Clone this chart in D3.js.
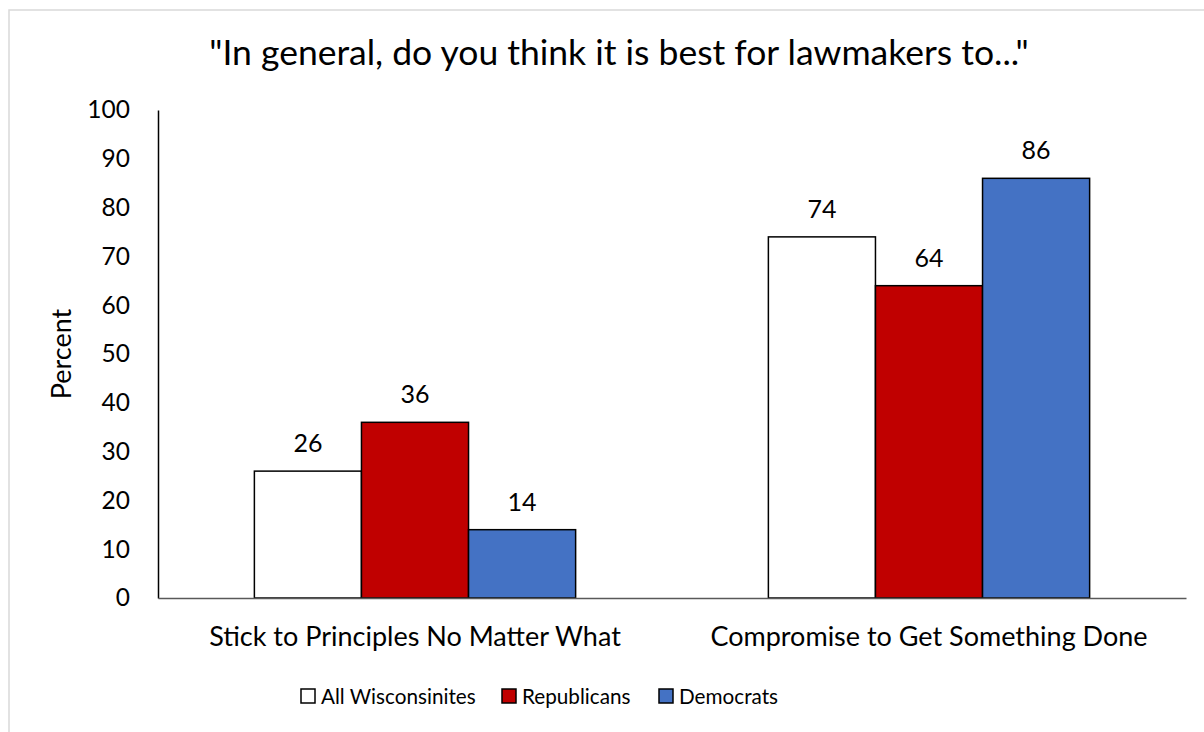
<!DOCTYPE html>
<html>
<head>
<meta charset="utf-8">
<script src="https://cdn.jsdelivr.net/npm/d3@7"></script>
<style>
  html, body { margin: 0; padding: 0; background: #fff; }
  svg { display: block; font-family: Lato, "Open Sans", sans-serif; }
</style>
</head>
<body>
<svg id="chart" width="1204" height="732"></svg>
<script>
const title = '"In general, do you think it is best for lawmakers to..."';
const categories = ["Stick to Principles No Matter What", "Compromise to Get Something Done"];
const seriesNames = ["All Wisconsinites", "Republicans", "Democrats"];
const seriesColors = ["#FFFFFF", "#C00000", "#4472C4"];
const allWisconsinites = [26, 74];
const republicans = [36, 64];
const democrats = [14, 86];
const yTicks = [0, 10, 20, 30, 40, 50, 60, 70, 80, 90, 100];
const yLabel = "Percent";

const seriesValues = [allWisconsinites, republicans, democrats];
const rows = categories.map((c, i) => ({
  category: c,
  values: seriesNames.map((s, j) => ({ series: s, value: seriesValues[j][i], color: seriesColors[j] }))
}));

const svg = d3.select("#chart");
const plot = { left: 158, right: 1186, top: 110, bottom: 598 };

// outer border
svg.append("rect")
  .attr("x", 9).attr("y", 10).attr("width", 1260).attr("height", 760)
  .attr("fill", "#fff").attr("stroke", "#d9d9d9").attr("stroke-width", 1.5);

const x0 = d3.scaleBand().domain(categories).range([plot.left, plot.right]).padding(0);
const bw = x0.bandwidth();
const x1 = d3.scaleBand().domain(seriesNames).range([bw * 0.1875, bw * 0.8125]).padding(0);
const y = d3.scaleLinear().domain([0, 100]).range([plot.bottom, plot.top]);

// title
svg.append("text")
  .attr("x", 619).attr("y", 65)
  .attr("text-anchor", "middle")
  .attr("font-size", 35.5).attr("fill", "#000")
  .text(title);

// y axis
const yAxis = svg.append("g")
  .attr("transform", `translate(${plot.left},0)`)
  .call(d3.axisLeft(y).tickValues(yTicks).tickSize(0).tickPadding(28));
yAxis.select(".domain").attr("stroke", "#000").attr("stroke-width", 1.5);
yAxis.selectAll("text").attr("font-size", 24.5).attr("fill", "#000").attr("font-family", "Lato, sans-serif");

// y label
svg.append("text")
  .attr("transform", `translate(71,354) rotate(-90)`)
  .attr("text-anchor", "middle")
  .attr("font-size", 27).attr("fill", "#000")
  .text(yLabel);

// bars
const groups = svg.selectAll("g.grp").data(rows).enter().append("g")
  .attr("class", "grp")
  .attr("transform", d => `translate(${x0(d.category)},0)`);

groups.selectAll("rect").data(d => d.values).enter().append("rect")
  .attr("x", d => x1(d.series))
  .attr("y", d => y(d.value))
  .attr("width", x1.bandwidth())
  .attr("height", d => y(0) - y(d.value))
  .attr("fill", d => d.color)
  .attr("stroke", "#000").attr("stroke-width", 1.5);

groups.selectAll("text.lbl").data(d => d.values).enter().append("text")
  .attr("class", "lbl")
  .attr("x", d => x1(d.series) + x1.bandwidth() / 2)
  .attr("y", d => y(d.value) - 19)
  .attr("text-anchor", "middle")
  .attr("font-size", 25).attr("fill", "#000")
  .text(d => d.value);

// x axis
const xAxis = svg.append("g")
  .attr("transform", `translate(0,${plot.bottom})`)
  .call(d3.axisBottom(x0).tickSize(0).tickPadding(0));
xAxis.select(".domain").attr("stroke", "#595959").attr("stroke-width", 1.5);
xAxis.selectAll("text")
  .attr("y", 48).attr("dy", null)
  .attr("font-size", 27).attr("fill", "#000").attr("font-family", "Lato, sans-serif");

// legend
const legendX = [301, 502, 659];
const legend = svg.selectAll("g.leg").data(seriesNames).enter().append("g")
  .attr("class", "leg")
  .attr("transform", (d, i) => `translate(${legendX[i]},689)`);
legend.append("rect")
  .attr("width", 14).attr("height", 14)
  .attr("fill", (d, i) => seriesColors[i])
  .attr("stroke", "#000").attr("stroke-width", 1.5);
legend.append("text")
  .attr("x", 20).attr("y", 14.5)
  .attr("font-size", 20.7).attr("fill", "#000")
  .text(d => d);
</script>
</body>
</html>
